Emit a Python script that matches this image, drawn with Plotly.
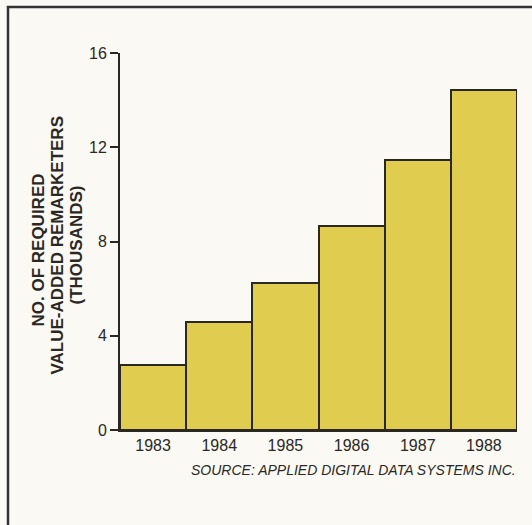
import plotly.graph_objects as go

# ---- data ----
years = ["1983", "1984", "1985", "1986", "1987", "1988"]
remarketers = [2.78, 4.59, 6.22, 8.65, 11.48, 14.45]  # thousands
y_tick_vals = [0, 4, 8, 12, 16]
y_title_lines = ["NO. OF REQUIRED", "VALUE-ADDED REMARKETERS", "(THOUSANDS)"]
source_text = "SOURCE: APPLIED DIGITAL DATA SYSTEMS INC."

# ---- layout geometry ----
W, H = 532, 525
ML, MR, MT, MB = 120, 15, 53, 95
PW, PH = W - ML - MR, H - MT - MB

def px_x(x):
    return (x - ML) / PW

def px_y(y):
    return (H - MB - y) / PH

FONT = "Liberation Sans, Arial, Helvetica, sans-serif"
INK = "#2b2824"
BG = "#faf9f4"
BAR = "#e0cc4e"

fig = go.Figure()
fig.add_trace(go.Bar(
    x=years, y=remarketers,
    marker=dict(color=BAR, line=dict(color=INK, width=2)),
    hoverinfo="x+y",
))

annotations = []
title_x = [37.5, 56.5, 75.5]
title_y = [250, 246, 245]
for line, xx, yy in zip(y_title_lines, title_x, title_y):
    annotations.append(dict(
        text="<b>" + line + "</b>", x=px_x(xx), y=px_y(yy), xref="paper", yref="paper",
        xanchor="center", yanchor="middle", textangle=-90, showarrow=False,
        font=dict(family=FONT, size=17, color=INK),
    ))
annotations.append(dict(
    text="<i>" + source_text + "</i>", x=px_x(517.5), y=px_y(470), xref="paper", yref="paper",
    xanchor="right", yanchor="middle", showarrow=False,
    font=dict(family=FONT, size=14, color=INK),
))

fig.update_layout(
    width=W, height=H,
    margin=dict(l=ML, r=MR, t=MT, b=MB, pad=0),
    paper_bgcolor=BG, plot_bgcolor=BG,
    bargap=0, showlegend=False,
    font=dict(family=FONT, color=INK),
    annotations=annotations,
    shapes=[dict(
        type="rect", xref="paper", yref="paper",
        x0=px_x(8), x1=px_x(620), y0=px_y(620), y1=px_y(7),
        line=dict(color="#333333", width=2.5), fillcolor="rgba(0,0,0,0)",
    )],
)
fig.update_xaxes(
    type="category", showline=True, linecolor=INK, linewidth=2,
    ticks="", tickfont=dict(size=16, color=INK), showgrid=False, zeroline=False,
)
fig.update_yaxes(
    range=[0, 16], tickvals=y_tick_vals, showline=True, linecolor=INK, linewidth=2,
    ticks="outside", ticklen=8, tickwidth=2, tickcolor=INK,
    tickfont=dict(size=16, color=INK), showgrid=False, zeroline=False,
)

fig.write_html(
    "out.html",
    config={"displayModeBar": False},
    post_script="document.body.style.margin='0';document.body.style.background='%s';" % BG,
)
